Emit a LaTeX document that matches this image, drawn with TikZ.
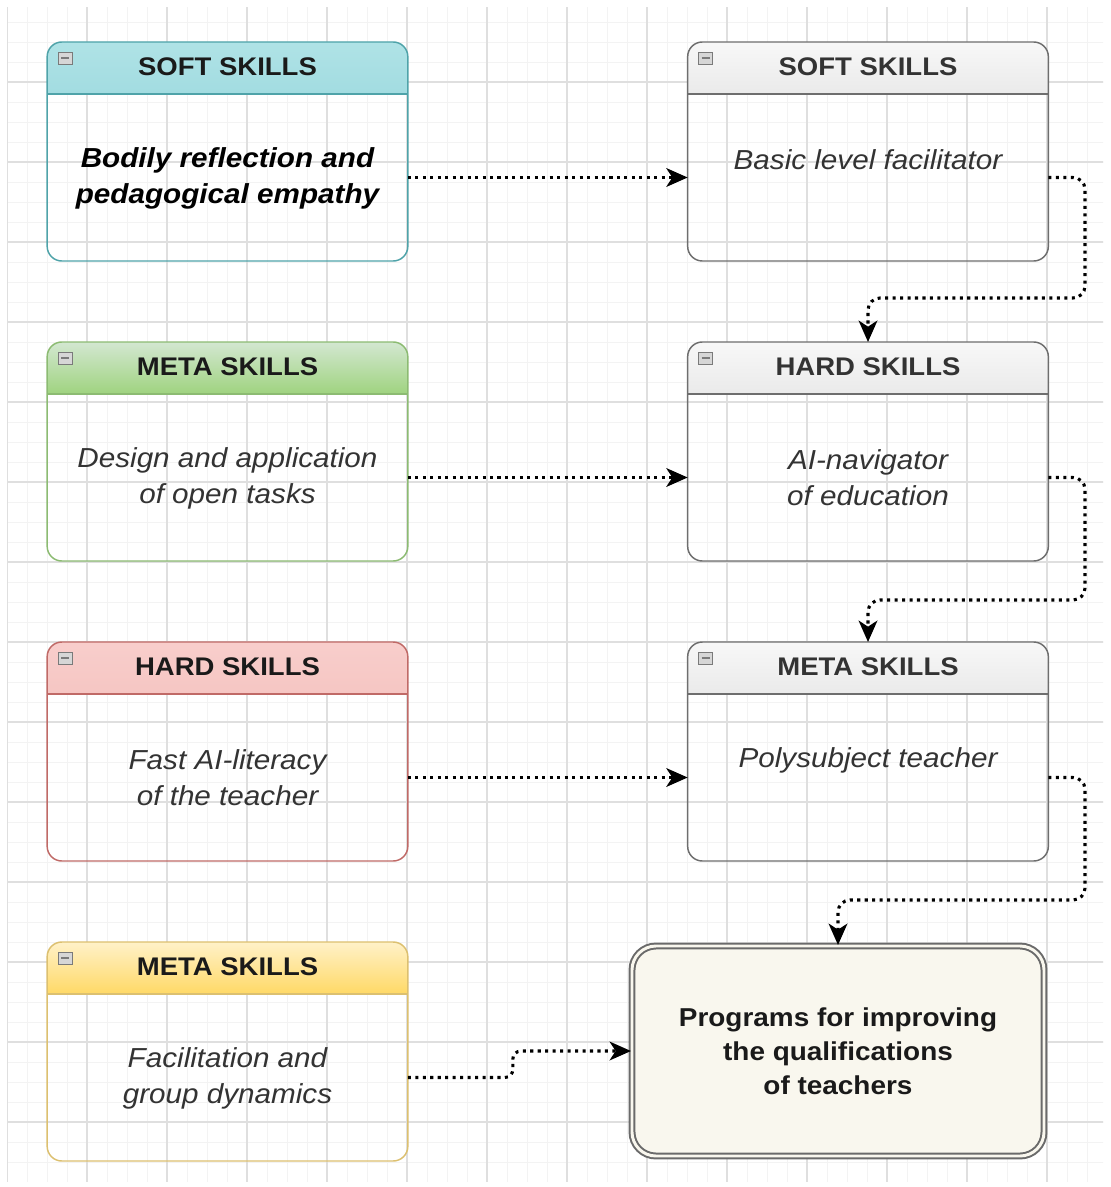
\documentclass[tikz,border=0pt]{standalone}
\usepackage{fontspec}
\setmainfont{Liberation Sans}[FakeStretch=1.08]
\usetikzlibrary{arrows.meta,calc}

\definecolor{tealH}{HTML}{B0E3E6}\definecolor{tealG}{HTML}{A2DCE1}\definecolor{tealS}{HTML}{4FA3A9}
\definecolor{greenH}{HTML}{D5E8D4}\definecolor{greenG}{HTML}{9FD37F}\definecolor{greenS}{HTML}{8CBB72}
\definecolor{redH}{HTML}{F8CECC}\definecolor{redG}{HTML}{F6C6C3}\definecolor{redS}{HTML}{C06A67}
\definecolor{yelH}{HTML}{FFF2CC}\definecolor{yelG}{HTML}{FFD966}\definecolor{yelS}{HTML}{DCC070}
\definecolor{grayH}{HTML}{F8F8F8}\definecolor{grayG}{HTML}{EAEAEA}\definecolor{grayS}{HTML}{6E6E6E}
\definecolor{titleDark}{HTML}{1A1A1A}\definecolor{titleGray}{HTML}{333333}
\definecolor{bodyC}{HTML}{333333}
\definecolor{cream}{HTML}{F9F7EE}\definecolor{finS}{HTML}{6A6A6A}
\definecolor{gridMinor}{HTML}{F3F3F3}\definecolor{gridMajor}{HTML}{DFDFDF}
\definecolor{iconS}{HTML}{7A7A7A}\definecolor{iconF}{HTML}{D6D6D6}

\tikzset{
  skbox/.style={anchor=north, rounded corners=11pt, minimum width=270.5pt,
    minimum height=164.25pt, inner sep=0pt, outer sep=0pt, line width=1.1pt, draw=#1S},
  hdrtxt/.style={inner sep=0pt, font=\bfseries\fontsize{19.1}{23}\selectfont},
  bodytxt/.style={inner sep=0pt, align=center, text=bodyC,
    font=\itshape\fontsize{20.6}{27}\selectfont},
  iconbox/.style={draw=iconS, fill=iconF, line width=0.7pt},
  finbox/.style={rounded corners=18pt, minimum width=309pt, minimum height=157.5pt,
    inner sep=0pt, draw=finS, line width=1.5pt, double=cream, double distance=2.2pt,
    fill=cream, align=center, text=titleDark,
    font=\bfseries\fontsize{19.4}{25.5}\selectfont},
  conn/.style={line width=2.3pt, dash pattern=on 2.3pt off 3.3pt, rounded corners=9pt,
    -{Stealth[length=16pt,width=14pt,inset=4.5pt]}},
  minorgrid/.style={draw=gridMinor, line width=0.6pt},
  majorgrid/.style={draw=gridMajor, line width=0.8pt}
}

% #1 name, #2 x centre, #3 y top, #4 colour, #5 title colour, #6 title, #7 body, #8 body offset
\newcommand\skbx[8]{%
  \begin{scope}
    \clip[rounded corners=11pt] (#2-180.33,#3) rectangle (#2+180.33,#3+219);
    \shade[top color=#4H, bottom color=#4G] (#2-182,#3-2) rectangle (#2+182,#3+52);
  \end{scope}
  \node[skbox=#4] (#1) at (#2,#3) {};
  \draw[#4S, line width=1.1pt] ($(#1.north west)+(0,52)$) -- ($(#1.north east)+(0,52)$);
  \node[hdrtxt, text=#5] (#1h) at (#2,#3+25) {#6};
  \node[bodytxt] (#1b) at (#2,#3+#8) {#7};
  \draw[iconbox] ($(#1.north west)+(11,10)$) rectangle ($(#1.north west)+(25,22)$);
  \draw[iconS, line width=1.1pt] ($(#1.north west)+(14,16)$) -- ($(#1.north west)+(22,16)$);
}

\begin{document}
\begin{tikzpicture}[x=0.75pt,y=-0.75pt]
\useasboundingbox[fill=white] (0,0) rectangle (1110,1187);

% grid
\begin{scope}
  \clip (7,8) rectangle (1103,1181);
  \foreach \x in {7,27,...,1107} \draw[minorgrid] (\x,0) -- (\x,1187);
  \foreach \y in {2,22,...,1182} \draw[minorgrid] (0,\y) -- (1110,\y);
  \foreach \x in {7,87,...,1107} \draw[majorgrid] (\x,0) -- (\x,1187);
  \foreach \y in {2,82,...,1182} \draw[majorgrid] (0,\y) -- (1110,\y);
\end{scope}

% left column
\skbx{s1}{227.5}{42}{teal}{titleDark}{SOFT SKILLS}{\color{black}\bfseries Bodily reflection and\\\color{black}\bfseries pedagogical empathy}{136}
\skbx{m1}{227.5}{342}{green}{titleDark}{META SKILLS}{Design and application\\of open tasks}{136}
\skbx{h1}{227.5}{642}{red}{titleDark}{HARD SKILLS}{Fast AI-literacy\\of the teacher}{136}
\skbx{y1}{227.5}{942}{yel}{titleDark}{META SKILLS}{Facilitation and\\group dynamics}{136}

% right column
\skbx{r1}{868}{42}{gray}{titleGray}{SOFT SKILLS}{Basic level facilitator}{118}
\skbx{r2}{868}{342}{gray}{titleGray}{HARD SKILLS}{AI-navigator\\of education}{136}
\skbx{r3}{868}{642}{gray}{titleGray}{META SKILLS}{Polysubject teacher}{118}

% final box
\node[finbox] (fin) at (838,1051) {Programs for improving\\the qualifications\\of teachers};

% bend points
\coordinate (k1) at (1085,298);
\coordinate (k2) at (1085,600);
\coordinate (k3) at (1085,900);

% connectors
\draw[conn] ([yshift=-19.5pt]s1.east) -- ([yshift=-19.5pt]r1.west);
\draw[conn] ([yshift=-19.5pt]m1.east) -- ([yshift=-19.5pt]r2.west);
\draw[conn] ([yshift=-19.5pt]h1.east) -- ([yshift=-19.5pt]r3.west);
\draw[conn] ([yshift=-19.5pt]r1.east) -| (k1) -| (r2.north);
\draw[conn] ([yshift=-19.5pt]r2.east) -| (k2) -| (r3.north);
\draw[conn] ([yshift=-19.5pt]r3.east) -| (k3) -| (fin.north);
\draw[conn, rounded corners=6pt] ([yshift=-19.5pt]y1.east) -- ++(105,0) |- (fin.west);
\end{tikzpicture}
\end{document}
